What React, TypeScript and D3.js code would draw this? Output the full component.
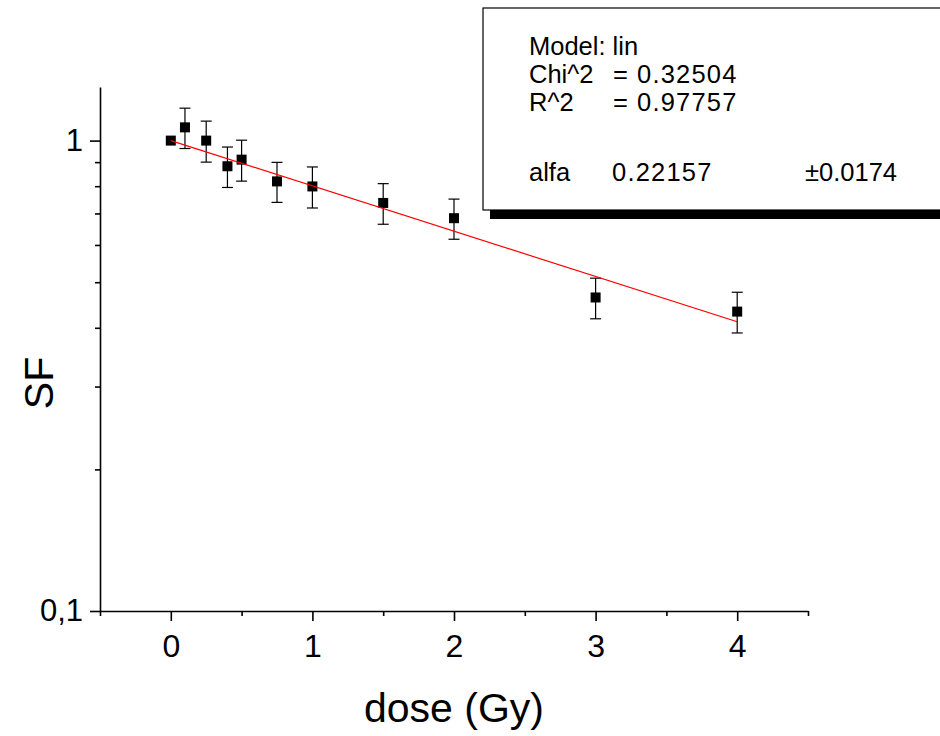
import { useEffect, useRef } from "react";
import * as d3 from "d3";

// Survival fraction data
const dose = [0, 0.1, 0.25, 0.4, 0.5, 0.75, 1, 1.5, 2, 3, 4];
const sf = [1.0, 1.067, 1.0, 0.882, 0.911, 0.819, 0.799, 0.737, 0.684, 0.464, 0.433];
const sfErr = [0, 0.105, 0.1, 0.087, 0.091, 0.08, 0.08, 0.073, 0.067, 0.046, 0.043];

// Fitted line (Model: lin) end points
const fitDose = [0, 4];
const fitSF = [1.0, 0.412];

const xMajorTicks = [0, 1, 2, 3, 4];
const xMinorTicks = [-0.5, 0.5, 1.5, 2.5, 3.5, 4.5];
const yMajorTicks = [0.1, 1];
const yMajorLabels = ["0,1", "1"];
const yMinorTicks = [0.2, 0.3, 0.4, 0.5, 0.6, 0.7, 0.8, 0.9];

const legendLines = ["Model: lin", "Chi^2", "R^2"];
const legendValues = ["", "0.32504", "0.97757"];
const paramName = "alfa";
const paramValue = "0.22157";
const paramError = "\u00b10.0174";

const FONT = "Arial, 'Liberation Sans', sans-serif";

function SurvivalChart() {
  const svgRef = useRef<SVGSVGElement>(null);

  useEffect(() => {
    const width = 940;
    const height = 736;
    const svg = d3.select(svgRef.current);
    svg.selectAll("*").remove();
    svg.attr("width", width).attr("height", height);

    const x = d3.scaleLinear().domain([-0.5, 4.5]).range([100, 808]);
    const y = d3.scaleLog().domain([0.1, 1.3]).range([611, 87]);

    // X axis
    const xAxis = svg.append("g").attr("transform", `translate(0,${y(0.1)})`);
    xAxis.call(
      d3
        .axisBottom(x)
        .tickValues(xMajorTicks)
        .tickSize(10)
        .tickSizeOuter(0)
        .tickPadding(13)
        .tickFormat((d) => String(d))
    );
    svg
      .append("g")
      .attr("transform", `translate(0,${y(0.1)})`)
      .call(d3.axisBottom(x).tickValues(xMinorTicks).tickSize(5).tickFormat(() => ""))
      .call((g) => g.select(".domain").remove());

    // Y axis
    const yAxis = svg.append("g").attr("transform", `translate(${x(-0.5)},0)`);
    yAxis.call(
      d3
        .axisLeft(y)
        .tickValues(yMajorTicks)
        .tickSize(10)
        .tickSizeOuter(0)
        .tickPadding(7)
        .tickFormat((d, i) => yMajorLabels[i])
    );
    svg
      .append("g")
      .attr("transform", `translate(${x(-0.5)},0)`)
      .call(d3.axisLeft(y).tickValues(yMinorTicks).tickSize(5).tickFormat(() => ""))
      .call((g) => g.select(".domain").remove());

    svg.selectAll(".domain, .tick line").attr("stroke", "#000").attr("stroke-width", 1.6);
    xAxis.selectAll("text").attr("font-size", 32).attr("font-family", FONT).attr("fill", "#000");
    yAxis.selectAll("text").attr("font-size", 31).attr("font-family", FONT).attr("fill", "#000");

    // Axis titles
    svg
      .append("text")
      .attr("x", (x(-0.5) + x(4.5)) / 2)
      .attr("y", 722)
      .attr("text-anchor", "middle")
      .attr("font-family", FONT)
      .attr("font-size", 41)
      .text("dose (Gy)");
    svg
      .append("text")
      .attr("transform", `translate(53,383) rotate(-90)`)
      .attr("text-anchor", "middle")
      .attr("font-family", FONT)
      .attr("font-size", 41)
      .text("SF");

    const pts = dose.map((d, i) => ({ d, v: sf[i], e: sfErr[i] }));

    // Error bars
    const eb = svg.append("g").attr("stroke", "#000").attr("stroke-width", 1.2);
    pts
      .filter((p) => p.e > 0)
      .forEach((p) => {
        const cx = x(p.d);
        const top = y(p.v + p.e);
        const bot = y(p.v - p.e);
        eb.append("line").attr("x1", cx).attr("x2", cx).attr("y1", top).attr("y2", bot);
        eb.append("line").attr("x1", cx - 5.5).attr("x2", cx + 5.5).attr("y1", top).attr("y2", top);
        eb.append("line").attr("x1", cx - 5.5).attr("x2", cx + 5.5).attr("y1", bot).attr("y2", bot);
      });

    // Points
    svg
      .selectAll("rect.pt")
      .data(pts)
      .enter()
      .append("rect")
      .attr("class", "pt")
      .attr("x", (p) => x(p.d) - 5)
      .attr("y", (p) => y(p.v) - 5)
      .attr("width", 10)
      .attr("height", 10)
      .attr("fill", "#000");

    // Fit line
    const line = d3
      .line<number>()
      .x((d) => x(d))
      .y((d, i) => y(fitSF[i]));
    svg
      .append("path")
      .datum(fitDose)
      .attr("fill", "none")
      .attr("stroke", "#ff0000")
      .attr("stroke-width", 1.2)
      .attr("d", line);

    // Legend box with shadow
    const lg = svg.append("g");
    lg.append("rect").attr("x", 490).attr("y", 17).attr("width", 470).attr("height", 202).attr("fill", "#000");
    lg.append("rect")
      .attr("x", 483)
      .attr("y", 8)
      .attr("width", 470)
      .attr("height", 202)
      .attr("fill", "#fff")
      .attr("stroke", "#000")
      .attr("stroke-width", 1.2);

    const fs = 25.5;
    const txt = (tx: number, ty: number, s: string, spacing = 0) =>
      lg
        .append("text")
        .attr("x", tx)
        .attr("y", ty)
        .attr("font-family", FONT)
        .attr("font-size", fs)
        .attr("letter-spacing", spacing)
        .text(s);

    legendLines.forEach((t, i) => {
      txt(529, 55 + i * 28, t);
      if (legendValues[i]) {
        txt(613, 55 + i * 28, "=");
        txt(637, 55 + i * 28, legendValues[i], 1.2);
      }
    });
    txt(529, 181, paramName);
    txt(612, 181, paramValue, 1.2);
    txt(805, 181, paramError);
  }, []);

  return <svg ref={svgRef} style={{ position: "absolute", left: 0, top: 0, background: "#fff" }}></svg>;
}

export default function App() {
  return <SurvivalChart />;
}
